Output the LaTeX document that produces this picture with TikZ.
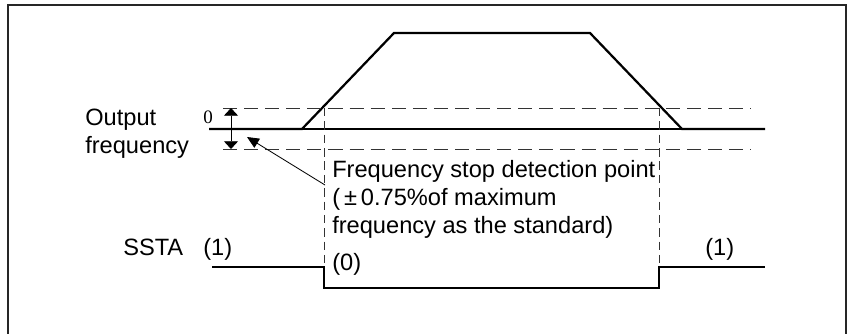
\documentclass[tikz,border=0pt]{standalone}
\usepackage{fontspec}
\setmainfont{Liberation Sans}
\newfontfamily\zerofont{Liberation Serif}
\usetikzlibrary{arrows.meta, positioning}

\begin{document}
\begin{tikzpicture}[x=0.025cm, y=-0.025cm,
    lbl/.style={anchor=base west, inner sep=0pt, align=left, font=\fontsize{16.8}{19.7}\selectfont},
    wave/.style={line width=1.6pt, line join=miter},
    guide/.style={line width=0.7pt, black!80, dash pattern=on 10pt off 5pt},
    vguide/.style={line width=0.6pt, black!80, dash pattern=on 6pt off 3.5pt},
    band/.style={-{Triangle[length=5.5pt, width=10pt]}, line width=0.6pt},
    tip/.style={-{Triangle[length=8.5pt, width=7.5pt]}, line width=0.6pt}]
    \useasboundingbox (0,0) rectangle (847,334);
    \draw[line width=1.1pt, black!85] (8,334) -- (8,5) -- (846,5) -- (846,334);
    % output frequency
    \coordinate (f0) at (209,129);
    \coordinate (up) at (302,129);
    \coordinate (tl) at (394,33);
    \coordinate (tr) at (590,33);
    \coordinate (dn) at (682,129);
    \coordinate (f1) at (765,129);
    \draw[line width=0.8pt] (up) -- (dn);
    \draw[wave] (f0) -- (up) -- (tl) -- (tr) -- (dn) -- (f1);
    \draw[guide] (223,108) coordinate (hiL) -- (751,108) coordinate (hiR);
    \draw[guide] (223,149) coordinate (loL) -- (751,149) coordinate (loR);
    \coordinate (bandT) at (231,108);
    \coordinate (bandB) at (231,149);
    \draw[band] (231,129) -- (bandT);
    \draw[band] (231,129) -- (bandB);
    \node[inner sep=0pt, font=\zerofont\fontsize{13.5}{14}\selectfont] (zero) at (208,117) {0};
    \node[lbl] (out) at (85,153) {Output\\frequency};
    % SSTA
    \coordinate (s0) at (212,267);
    \coordinate (sa) at (324,267);
    \coordinate (sb) at (324,288);
    \coordinate (sc) at (659,288);
    \coordinate (sd) at (659,267);
    \coordinate (s1) at (765,267);
    \draw[wave] (s0) -- (sa) -- (sb) -- (sc) -- (sd) -- (s1);
    \draw[vguide] (324,108) -- (sa);
    \draw[vguide] (659,108) -- (sd);
    \node[lbl] (ssta) at (123,255) {SSTA};
    \node[lbl] (one) at (203,255) {(1)};
    \node[lbl] (off) at (332,270) {(0)};
    \node[lbl] (oneR) at (705,255) {(1)};
    \node[lbl] (note) at (332,233) {Frequency stop detection point\\(\,±\,0.75\%of maximum\\frequency as the standard)};
    \coordinate (lead) at (325,185);
    \coordinate (leadTip) at (247,137);
    \draw[tip] (lead) -- (leadTip);
\end{tikzpicture}
\end{document}
